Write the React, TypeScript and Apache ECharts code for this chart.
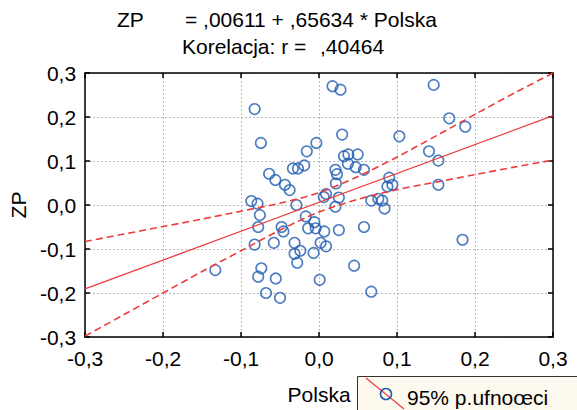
import React, { useEffect, useRef } from "react";
import * as echarts from "echarts";

// Scatter data
const polska = [
  -0.0826, -0.0746, -0.0034, -0.0157, -0.019, -0.027, -0.0335, -0.064, -0.056, -0.0437,
  -0.0377, -0.0869, -0.0788, -0.029, 0.006, 0.009, 0.0173, 0.0275, 0.0296, 0.103,
  0.032, 0.0376, 0.0495, 0.037, 0.047, 0.0576, 0.021, 0.023, 0.0216, 0.09,
  0.0877, 0.094, -0.0759, 0.0254, 0.021, 0.067, 0.076, 0.081, 0.084, -0.017,
  -0.006, 0.147, 0.167, 0.1875, 0.141, 0.153, 0.153, 0.184, -0.078, -0.048,
  -0.0457, -0.014, -0.0043, 0.0067, -0.0826, -0.058, -0.0314, 0.002, 0.009, -0.0314,
  -0.024, -0.007, -0.028, -0.133, -0.074, -0.078, -0.0555, 0.0008, -0.068, -0.05,
  0.0254, 0.0576, 0.045, 0.067,
];
const zp = [
  0.218, 0.141, 0.141, 0.122, 0.09, 0.083, 0.083, 0.071, 0.057, 0.046,
  0.034, 0.009, 0.003, 0.0, 0.018, 0.025, 0.27, 0.262, 0.16, 0.156,
  0.111, 0.115, 0.115, 0.094, 0.086, 0.08, 0.08, 0.07, 0.049, 0.062,
  0.042, 0.046, -0.023, 0.017, -0.004, 0.01, 0.014, 0.01, -0.008, -0.026,
  -0.039, 0.273, 0.197, 0.178, 0.122, 0.101, 0.046, -0.079, -0.05, -0.05,
  -0.06, -0.053, -0.053, -0.06, -0.09, -0.086, -0.086, -0.086, -0.094, -0.111,
  -0.104, -0.109, -0.131, -0.148, -0.144, -0.163, -0.167, -0.17, -0.2, -0.211,
  -0.057, -0.05, -0.138, -0.197,
];

// Regression line end points (ZP = ,00611 + ,65634 * Polska)
const regX = [-0.3, 0.3];
const regY = [-0.1908, 0.203];

// 95% confidence band
const bandX = [-0.3, -0.25, -0.2, -0.15, -0.1, -0.05, 0, 0.05, 0.1, 0.15, 0.2, 0.25, 0.3];
const bandUpper = [-0.083, -0.066, -0.049, -0.032, -0.014, 0.004, 0.028, 0.065, 0.109, 0.157, 0.206, 0.254, 0.3];
const bandLower = [-0.298, -0.249, -0.2, -0.151, -0.104, -0.057, -0.016, 0.013, 0.035, 0.052, 0.069, 0.086, 0.102];

const titleLeft = "ZP";
const titleRight = "= ,00611 + ,65634 * Polska";
const titleLine2a = "Korelacja: r =";
const titleLine2b = ",40464";
const xName = "Polska";
const yName = "ZP";
const legendText = "95% p.ufnoœci";

const FONT = "Liberation Sans, Arial, sans-serif";
const FS = 21;
const RED = "#ee3b3b";
const BLUE = "#1f5db0";

const fmt = (v: number) => v.toFixed(1).replace(".", ",");

export default function App() {
  const ref = useRef<HTMLDivElement>(null);
  useEffect(() => {
    if (!ref.current) return;
    const chart = echarts.init(ref.current, undefined, { renderer: "svg" });
    const grid = { left: 81, right: 24, top: 73, bottom: 68 };
    const axisCommon = {
      type: "value" as const,
      min: -0.3,
      max: 0.3,
      interval: 0.1,
      axisLine: { show: true, onZero: false, lineStyle: { color: "#000", width: 1.5 } },
      axisTick: { show: true, inside: true, length: 5, lineStyle: { color: "#000", width: 1.5 } },
    };
    const font = `${FS}px ${FONT}`;
    chart.setOption({
      animation: false,
      backgroundColor: "#fff",
      grid,
      xAxis: [
        {
          ...axisCommon,
          position: "bottom",
          name: xName,
          nameLocation: "middle",
          nameGap: 47,
          nameTextStyle: { fontFamily: FONT, fontSize: FS, lineHeight: FS, color: "#000" },
          axisLabel: { formatter: fmt, fontFamily: FONT, fontSize: FS, color: "#000", margin: 11 },
          splitLine: { show: true, lineStyle: { color: "#b8b8b8", type: [2, 2], width: 1 } },
        },
        {
          ...axisCommon,
          position: "top",
          axisLabel: { show: false },
          splitLine: { show: false },
        },
      ],
      yAxis: [
        {
          ...axisCommon,
          position: "left",
          name: yName,
          nameLocation: "middle",
          nameGap: 47,
          nameRotate: 90,
          nameTextStyle: { fontFamily: FONT, fontSize: FS, color: "#000" },
          axisLabel: { formatter: fmt, fontFamily: FONT, fontSize: FS, color: "#000", margin: 9 },
          splitLine: { show: true, lineStyle: { color: "#b8b8b8", type: [2, 2], width: 1 } },
        },
        {
          ...axisCommon,
          position: "right",
          axisLabel: { show: false },
          splitLine: { show: false },
        },
      ],
      series: [
        {
          type: "scatter",
          data: polska.map((x, i) => [x, zp[i]]),
          symbol: "circle",
          symbolSize: 10.5,
          itemStyle: { color: "rgba(255,255,255,0)", borderColor: BLUE, borderWidth: 1.6 },
          z: 2,
        },
        {
          type: "line",
          data: regX.map((x, i) => [x, regY[i]]),
          showSymbol: false,
          lineStyle: { color: RED, width: 1.3 },
          z: 3,
        },
        {
          type: "line",
          data: bandX.map((x, i) => [x, bandUpper[i]]),
          showSymbol: false,
          smooth: 0.3,
          lineStyle: { color: RED, width: 1.6, type: [7, 4] },
          z: 3,
        },
        {
          type: "line",
          data: bandX.map((x, i) => [x, bandLower[i]]),
          showSymbol: false,
          smooth: 0.3,
          lineStyle: { color: RED, width: 1.6, type: [7, 4] },
          z: 3,
        },
      ],
      graphic: [
        { type: "text", left: 117, top: 9, style: { text: titleLeft, font, fill: "#000" } },
        { type: "text", left: 185, top: 9, style: { text: titleRight, font, fill: "#000" } },
        { type: "text", left: 182, top: 36, style: { text: titleLine2a, font, fill: "#000" } },
        { type: "text", left: 320, top: 36, style: { text: titleLine2b, font, fill: "#000" } },
        {
          type: "rect",
          shape: { x: 357.5, y: 376.5, width: 240, height: 40 },
          style: { fill: "#fdf9ee", stroke: "#333", lineWidth: 1 },
        },
        {
          type: "line",
          shape: { x1: 366, y1: 378, x2: 404, y2: 409 },
          style: { stroke: RED, lineWidth: 1.2 },
        },
        {
          type: "circle",
          shape: { cx: 386, cy: 394, r: 5.5 },
          style: { fill: "rgba(0,0,0,0)", stroke: BLUE, lineWidth: 1.6 },
        },
        { type: "text", left: 407, top: 387, style: { text: legendText, font, fill: "#000" } },
      ],
    });
    return () => chart.dispose();
  }, []);
  return (
    <div
      ref={ref}
      style={{ position: "absolute", left: 0, top: 0, width: 577, height: 410, background: "#fff" }}
    />
  );
}
